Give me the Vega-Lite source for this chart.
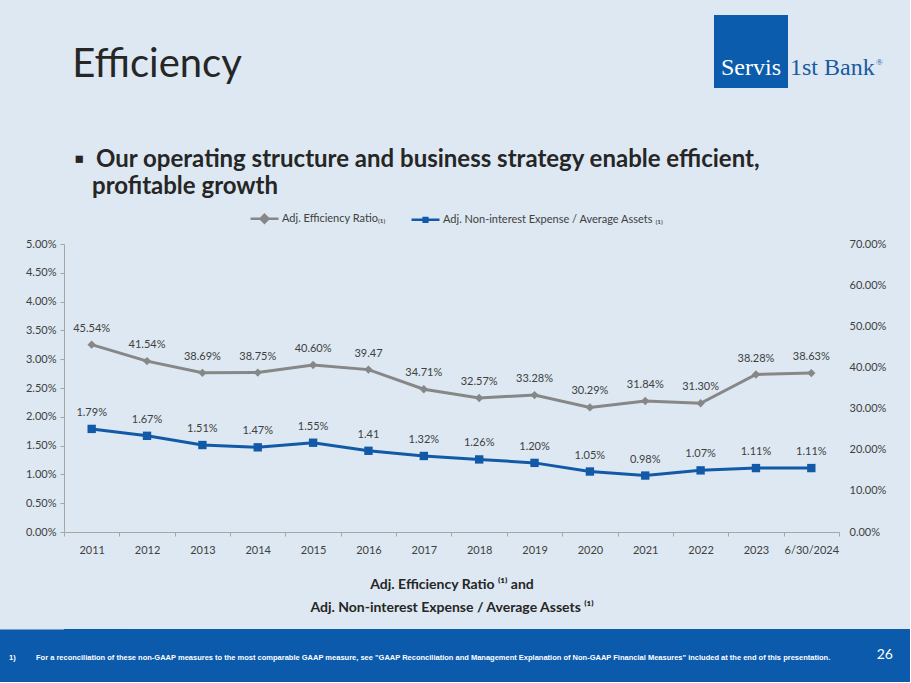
{
  "$schema": "https://vega.github.io/schema/vega-lite/v6.json",
  "background": "#dde8f2",
  "padding": {"left": 0, "top": 15, "right": 0, "bottom": 0},
  "config": {"view": {"stroke": null}, "font": "Lato"},
  "columns": 1,
  "bounds": "full",
  "spacing": 15,
  "resolve": {"scale": {"color": "independent", "x": "independent", "y": "independent"}, "legend": {"color": "independent"}},
  "datasets": {
    "efficiency": [
      {"period": "2011", "ratio": 0.4554, "ratioLabel": "45.54%", "expense": 0.0179, "expenseLabel": "1.79%"},
      {"period": "2012", "ratio": 0.4154, "ratioLabel": "41.54%", "expense": 0.0167, "expenseLabel": "1.67%"},
      {"period": "2013", "ratio": 0.3869, "ratioLabel": "38.69%", "expense": 0.0151, "expenseLabel": "1.51%"},
      {"period": "2014", "ratio": 0.3875, "ratioLabel": "38.75%", "expense": 0.0147, "expenseLabel": "1.47%"},
      {"period": "2015", "ratio": 0.4060, "ratioLabel": "40.60%", "expense": 0.0155, "expenseLabel": "1.55%"},
      {"period": "2016", "ratio": 0.3947, "ratioLabel": "39.47", "expense": 0.0141, "expenseLabel": "1.41"},
      {"period": "2017", "ratio": 0.3471, "ratioLabel": "34.71%", "expense": 0.0132, "expenseLabel": "1.32%"},
      {"period": "2018", "ratio": 0.3257, "ratioLabel": "32.57%", "expense": 0.0126, "expenseLabel": "1.26%"},
      {"period": "2019", "ratio": 0.3328, "ratioLabel": "33.28%", "expense": 0.0120, "expenseLabel": "1.20%"},
      {"period": "2020", "ratio": 0.3029, "ratioLabel": "30.29%", "expense": 0.0105, "expenseLabel": "1.05%"},
      {"period": "2021", "ratio": 0.3184, "ratioLabel": "31.84%", "expense": 0.0098, "expenseLabel": "0.98%"},
      {"period": "2022", "ratio": 0.3130, "ratioLabel": "31.30%", "expense": 0.0107, "expenseLabel": "1.07%"},
      {"period": "2023", "ratio": 0.3828, "ratioLabel": "38.28%", "expense": 0.0111, "expenseLabel": "1.11%"},
      {"period": "6/30/2024", "ratio": 0.3863, "ratioLabel": "38.63%", "expense": 0.0111, "expenseLabel": "1.11%"}
    ]
  },
  "concat": [
    {
      "hconcat": [
        {
          "width": 188,
          "height": 118,
          "data": {"values": [{"t": "Efficiency"}]},
          "mark": {"type": "text", "fontSize": 40, "font": "Lato", "color": "#262626", "align": "center", "baseline": "alphabetic", "dy": 3, "dx": -1},
          "encoding": {"text": {"field": "t"}}
        },
        {
          "width": 74,
          "height": 73,
          "view": {"fill": "#0b5cad", "stroke": null},
          "data": {"values": [{"box": "Servis", "rest": "1st Bank", "mark": "®"}]},
          "layer": [
            {
              "mark": {"type": "text", "font": "Liberation Serif", "fontSize": 24, "color": "white", "align": "center", "baseline": "alphabetic", "dy": 23},
              "encoding": {"text": {"field": "box"}}
            },
            {
              "mark": {"type": "text", "font": "Liberation Serif", "fontSize": 24, "color": "#1a5aa0", "align": "left", "baseline": "alphabetic", "dx": 39, "dy": 23},
              "encoding": {"text": {"field": "rest"}}
            },
            {
              "mark": {"type": "text", "font": "Liberation Serif", "fontSize": 9, "color": "#1a5aa0", "align": "left", "baseline": "alphabetic", "dx": 125, "dy": 13},
              "encoding": {"text": {"field": "mark"}}
            }
          ]
        }
      ],
      "spacing": 462
    },
    {
      "width": 775,
      "height": 288,
      "data": {"name": "efficiency"},
      "title": {
        "text": ["▪\u2002Our operating structure and business strategy enable efficient,", "\u2800profitable growth"],
        "anchor": "start",
        "frame": "group",
        "dx": 10,
        "font": "Lato",
        "fontSize": 24,
        "fontWeight": "bold",
        "color": "#262626",
        "lineHeight": 27,
        "offset": 4
      },
      "layer": [
        {
          "encoding": {
            "x": {
              "field": "period", "type": "nominal", "sort": null,
              "scale": {"type": "band", "paddingInner": 0, "paddingOuter": 0},
              "axis": {
                "labelAngle": 0, "labelFontSize": 11, "labelColor": "#404040", "labelPadding": 8,
                "domainColor": "#a6a6a6", "tickColor": "#a6a6a6", "tickSize": 4, "tickBand": "extent",
                "title": ["Adj. Efficiency Ratio ⁽¹⁾ and", "Adj. Non-interest Expense / Average Assets ⁽¹⁾"],
                "titleFontSize": 14, "titleFontWeight": "bold", "titleColor": "#262626", "titlePadding": 22, "titleLineHeight": 23
              }
            },
            "y": {
              "field": "ratio", "type": "quantitative",
              "scale": {"domain": [0, 0.7]},
              "axis": {
                "orient": "right", "format": ".2%", "values": [0, 0.1, 0.2, 0.3, 0.4, 0.5, 0.6, 0.7],
                "domain": false, "ticks": false, "grid": false, "labelPadding": 10,
                "labelFontSize": 11, "labelColor": "#404040", "title": null
              }
            }
          },
          "layer": [
            {
              "mark": {"type": "line", "strokeWidth": 3},
              "encoding": {"color": {"datum": "Adj. Efficiency Ratio₍₁₎"}}
            },
            {
              "mark": {"type": "point", "shape": "diamond", "filled": true, "size": 70, "opacity": 1},
              "encoding": {"color": {"datum": "Adj. Efficiency Ratio₍₁₎"}}
            },
            {
              "mark": {"type": "text", "fontSize": 11, "color": "#404040", "baseline": "middle", "dy": -16},
              "encoding": {"text": {"field": "ratioLabel"}}
            }
          ]
        },
        {
          "encoding": {
            "x": {"field": "period", "type": "nominal", "sort": null},
            "y": {
              "field": "expense", "type": "quantitative",
              "scale": {"domain": [0, 0.05]},
              "axis": {
                "orient": "left", "format": ".2%", "values": [0, 0.005, 0.01, 0.015, 0.02, 0.025, 0.03, 0.035, 0.04, 0.045, 0.05],
                "domainColor": "#a6a6a6", "tickColor": "#a6a6a6", "tickSize": 4, "labelPadding": 4, "grid": false,
                "labelFontSize": 11, "labelColor": "#404040",
                "title": "I", "titleOpacity": 0, "titleFontSize": 10, "titlePadding": 15
              }
            }
          },
          "layer": [
            {
              "mark": {"type": "line", "strokeWidth": 3},
              "encoding": {"color": {"datum": "Adj. Non-interest Expense / Average Assets ₍₁₎"}}
            },
            {
              "mark": {"type": "point", "shape": "square", "filled": true, "size": 70, "opacity": 1},
              "encoding": {"color": {"datum": "Adj. Non-interest Expense / Average Assets ₍₁₎"}}
            },
            {
              "mark": {"type": "text", "fontSize": 11, "color": "#404040", "baseline": "middle", "dy": -16},
              "encoding": {"text": {"field": "expenseLabel"}}
            }
          ]
        }
      ],
      "resolve": {"scale": {"y": "independent"}, "axis": {"y": "independent"}},
      "encoding": {
        "color": {
          "scale": {
            "domain": ["Adj. Efficiency Ratio₍₁₎", "Adj. Non-interest Expense / Average Assets ₍₁₎"],
            "range": ["#878787", "#125aa8"]
          },
          "legend": {
            "orient": "none", "legendX": 185, "legendY": -41, "direction": "horizontal", "title": null,
            "symbolType": "M-1,0H1M0,-0.28L0.28,0L0,0.28L-0.28,0Z", "symbolSize": 784, "symbolStrokeWidth": 2.5,
            "labelFontSize": 11, "labelColor": "#404040", "labelOffset": 2, "columnPadding": 20, "labelLimit": 0,
            "encode": {
              "symbols": {
                "update": {
                  "shape": {"signal": "datum.index === 0 ? 'M-1,0H1M0,-0.28L0.28,0L0,0.28L-0.28,0Z' : 'M-1,0H1M-0.13,-0.13H0.13V0.13H-0.13Z'"}
                }
              }
            }
          }
        }
      }
    },
    {
      "width": 846,
      "height": 53,
      "view": {"fill": "#0b5aab", "stroke": null},
      "data": {"values": [{"num": "1)", "note": "For a reconciliation of these non-GAAP measures to the most comparable GAAP measure, see \"GAAP Reconciliation and Management Explanation of Non-GAAP Financial Measures\" included at the end of this presentation.", "page": "26", "left": 0, "right": 1, "mid": 0.5}]},
      "encoding": {
        "y": {
          "field": "mid", "type": "quantitative", "scale": {"domain": [0, 1]},
          "axis": {"orient": "left", "labels": false, "ticks": false, "grid": false, "title": null, "domainColor": "#0b5aab", "domainWidth": 130, "domainCap": "butt"}
        }
      },
      "layer": [
        {
          "mark": {"type": "text", "font": "Liberation Sans", "fontSize": 7.5, "fontWeight": "bold", "color": "white", "align": "left", "dx": -55, "dy": 2},
          "encoding": {"x": {"field": "left", "type": "quantitative", "scale": {"domain": [0, 1]}, "axis": null}, "text": {"field": "num"}}
        },
        {
          "mark": {"type": "text", "font": "Liberation Sans", "fontSize": 7.5, "fontWeight": "bold", "color": "white", "align": "left", "dx": -28, "dy": 2},
          "encoding": {"x": {"field": "left", "type": "quantitative"}, "text": {"field": "note"}}
        },
        {
          "mark": {"type": "text", "font": "Lato", "fontSize": 14, "color": "white", "align": "right", "dx": -17, "dy": -1},
          "encoding": {"x": {"field": "right", "type": "quantitative"}, "text": {"field": "page"}}
        }
      ]
    }
  ]
}
